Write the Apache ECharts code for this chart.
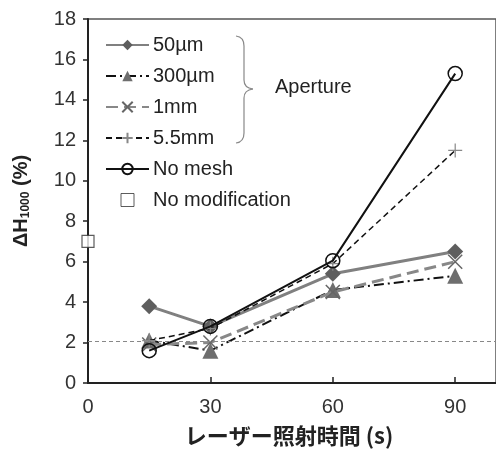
<!DOCTYPE html>
<html><head><meta charset="utf-8">
<script src="https://cdn.jsdelivr.net/npm/echarts@6/dist/echarts.min.js"></script>
<style>html,body{margin:0;padding:0;background:#fff}#c{width:496px;height:455px}</style>
</head><body><div id="c"></div>
<script>
const times = [15, 30, 60, 90];
const s50um = [3.8, 2.8, 5.4, 6.5];
const s300um = [2.1, 1.6, 4.6, 5.3];
const s1mm = [1.9, 2.0, 4.5, 6.0];
const s55mm = [2.1, 2.7, 5.9, 11.5];
const sNoMesh = [1.6, 2.8, 6.05, 15.3];
const noModTime = [0];
const noModValue = [7.0];
const refLevel = 2.05;
const xTicks = [0, 30, 60, 90];
const yTicks = [0, 2, 4, 6, 8, 10, 12, 14, 16, 18];

const pair = (xs, ys) => xs.map((x, i) => [x, ys[i]]);
const FONT = 'Arial, "Liberation Sans", sans-serif';
const crossPath = 'path://M0,0L10,10M10,0L0,10';
const plusPath = 'path://M5,0L5,10M0,5L10,5';
const braceStyle = {fill: 'none', stroke: '#888', lineWidth: 1.2};

const chart = echarts.init(document.getElementById('c'), null, {renderer: 'canvas'});
chart.setOption({
  animation: false,
  backgroundColor: '#fff',
  grid: {left: 88, top: 19, right: -4, bottom: 72, show: true, borderColor: '#555', borderWidth: 1.5},
  xAxis: {
    type: 'value', min: 0, max: 100, interval: 30,
    name: 'レーザー照射時間 (s)', nameLocation: 'middle', nameGap: 42,
    nameTextStyle: {fontFamily: '"Noto Sans CJK JP", ' + FONT, fontWeight: 'bold', fontSize: 22, color: '#222', padding: [0, 0, 0, -6]},
    axisLine: {lineStyle: {color: '#222', width: 2}},
    axisTick: {inside: true, length: 6, lineStyle: {color: '#222', width: 1.5}},
    axisLabel: {fontFamily: FONT, fontSize: 20, color: '#333', margin: 14, showMaxLabel: false,
      formatter: v => xTicks.includes(v) ? String(v) : ''},
    splitLine: {show: false}
  },
  yAxis: {
    type: 'value', min: 0, max: 18, interval: 2,
    name: '{a|ΔH}{b|1000}{a| (%)}', nameLocation: 'middle', nameGap: 56, nameRotate: 90,
    nameTextStyle: {rich: {
      a: {fontFamily: FONT, fontWeight: 'bold', fontSize: 20, color: '#222'},
      b: {fontFamily: FONT, fontWeight: 'bold', fontSize: 12, color: '#222', verticalAlign: 'bottom', padding: [9, 0, 0, 0]}
    }},
    axisLine: {lineStyle: {color: '#222', width: 2}},
    axisTick: {inside: false, length: 5, lineStyle: {color: '#222', width: 1.5}},
    axisLabel: {fontFamily: FONT, fontSize: 20, color: '#333', margin: 12,
      formatter: v => yTicks.includes(v) ? String(v) : ''},
    splitLine: {show: false}
  },
  legend: {
    orient: 'vertical', left: 105, top: 35, padding: 0, itemWidth: 43, itemHeight: 13, itemGap: 11,
    textStyle: {fontFamily: FONT, fontSize: 20, color: '#222', padding: [0, 0, 0, -1]},
    data: ['50µm', '300µm', '1mm', '5.5mm', 'No mesh',
      {name: 'No modification', icon: 'path://M0,0H10V10H0Z', itemStyle: {color: '#fff', borderColor: '#333', borderWidth: 1}}]
  },
  graphic: [
    {type: 'bezierCurve', shape: {x1: 236, y1: 36, cpx1: 244, cpy1: 37, x2: 244, y2: 46}, style: braceStyle},
    {type: 'line', shape: {x1: 244, y1: 46, x2: 244, y2: 80}, style: braceStyle},
    {type: 'bezierCurve', shape: {x1: 244, y1: 80, cpx1: 244, cpy1: 88, x2: 253, y2: 89}, style: braceStyle},
    {type: 'bezierCurve', shape: {x1: 253, y1: 89, cpx1: 244, cpy1: 90, x2: 244, y2: 98}, style: braceStyle},
    {type: 'line', shape: {x1: 244, y1: 98, x2: 244, y2: 133}, style: braceStyle},
    {type: 'bezierCurve', shape: {x1: 244, y1: 133, cpx1: 244, cpy1: 142, x2: 236, y2: 143}, style: braceStyle},
    {type: 'text', left: 275, top: 77, style: {text: 'Aperture', font: '20px Arial, "Liberation Sans", sans-serif', fill: '#222'}}
  ],
  series: [
    {name: 'No mesh', type: 'line', data: pair(times, sNoMesh), z: 6,
     lineStyle: {color: '#111', width: 2}, symbol: 'circle', symbolSize: 14,
     itemStyle: {color: 'rgba(255,255,255,0)', borderColor: '#111', borderWidth: 1.5},
     markLine: {silent: true, symbol: 'none', label: {show: false},
       lineStyle: {color: '#888', type: [4, 3], width: 1}, data: [{yAxis: refLevel}]}},
    {name: '5.5mm', type: 'line', data: pair(times, s55mm), z: 5,
     lineStyle: {color: '#111', width: 1.5, type: [6, 4]}, symbol: plusPath, symbolSize: 14,
     itemStyle: {color: '#888', borderColor: '#888', borderWidth: 1.2}},
    {name: '1mm', type: 'line', data: pair(times, s1mm), z: 4,
     lineStyle: {color: '#888', width: 3, type: [12, 6]}, symbol: crossPath, symbolSize: 14,
     itemStyle: {color: '#666', borderColor: '#666', borderWidth: 1.5}},
    {name: '300µm', type: 'line', data: pair(times, s300um), z: 3,
     lineStyle: {color: '#111', width: 2, type: [10, 4, 2, 4]}, symbol: 'triangle', symbolSize: 16,
     itemStyle: {color: '#6e6e6e'}},
    {name: '50µm', type: 'line', data: pair(times, s50um), z: 2,
     lineStyle: {color: '#808080', width: 3}, symbol: 'diamond', symbolSize: 16,
     itemStyle: {color: '#5e5e5e'}},
    {name: 'No modification', type: 'scatter', data: pair(noModTime, noModValue), z: 7,
     symbol: 'rect', symbolSize: 12, clip: false,
     itemStyle: {color: '#fff', borderColor: '#333', borderWidth: 1.2}}
  ]
});
</script></body></html>
